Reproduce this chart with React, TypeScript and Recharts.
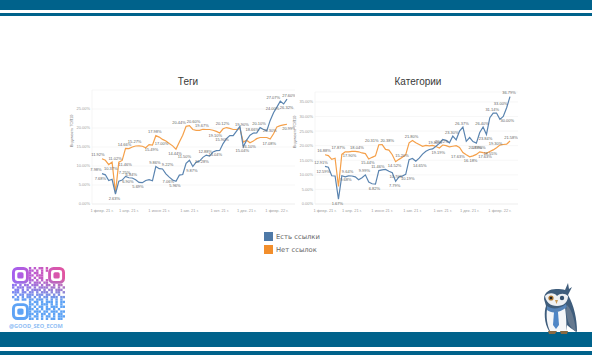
import React from 'react';
import { LineChart, Line, XAxis, YAxis, CartesianGrid } from 'recharts';

const weeks = ['1 февр. 21 г.','8 февр. 21 г.','15 февр. 21 г.','22 февр. 21 г.','1 мар. 21 г.','8 мар. 21 г.','15 мар. 21 г.','22 мар. 21 г.','1 апр. 21 г.','5 апр. 21 г.','12 апр. 21 г.','19 апр. 21 г.','26 апр. 21 г.','3 мая 21 г.','10 мая 21 г.','17 мая 21 г.','24 мая 21 г.','1 июня 21 г.','7 июня 21 г.','14 июня 21 г.','21 июня 21 г.','28 июня 21 г.','5 июля 21 г.','12 июля 21 г.','19 июля 21 г.','26 июля 21 г.','1 авг. 21 г.','9 авг. 21 г.','16 авг. 21 г.','23 авг. 21 г.','30 авг. 21 г.','6 сент. 21 г.','13 сент. 21 г.','20 сент. 21 г.','27 сент. 21 г.','1 окт. 21 г.','11 окт. 21 г.','18 окт. 21 г.','25 окт. 21 г.','1 нояб. 21 г.','8 нояб. 21 г.','15 нояб. 21 г.','22 нояб. 21 г.','1 дек. 21 г.','6 дек. 21 г.','13 дек. 21 г.','20 дек. 21 г.','27 дек. 21 г.','3 янв. 22 г.','10 янв. 22 г.','17 янв. 22 г.','24 янв. 22 г.','1 февр. 22 г.','7 февр. 22 г.','14 февр. 22 г.','21 февр. 22 г.'];
const xTicks = ['1 февр. 21 г.','1 апр. 21 г.','1 июня 21 г.','1 авг. 21 г.','1 окт. 21 г.','1 дек. 21 г.','1 февр. 22 г.'];

const tagsLinked = [7.98,7.68,6.17,6.5,2.63,6.0,6.3,7.25,6.9,6.84,6.4,5.69,5.6,6.2,6.4,6.1,9.86,9.3,9.22,7.94,7.06,6.3,5.96,7.6,7.76,10.7,11.5,9.87,11.02,11.3,12.28,12.88,12.6,13.7,14.04,14.1,15.9,17.2,18.0,18.0,19.2,20.43,15.04,16.8,18.1,18.66,18.7,20.1,19.6,19.3,22.0,24.0,25.5,27.07,26.32,27.6];
const tagsUnlinked = [11.92,11.5,10.37,11.02,3.0,11.0,11.46,14.66,14.6,15.0,15.27,15.3,15.2,14.8,15.61,15.49,17.98,17.6,17.0,16.6,15.9,15.3,14.44,16.3,18.1,20.44,20.6,19.6,19.36,19.4,19.67,19.6,19.6,19.4,19.1,18.7,19.8,20.12,19.9,19.6,19.6,19.9,16.3,16.8,16.1,16.6,17.2,17.5,17.5,17.5,17.08,18.5,20.3,20.62,20.8,20.99];
const catsLinked = [12.91,12.59,9.68,9.6,1.67,9.68,9.3,9.64,9.6,9.3,8.3,9.0,9.99,7.5,6.94,6.82,11.46,11.7,11.85,11.2,10.7,7.79,9.3,9.6,10.19,15.2,15.6,14.65,15.7,17.1,18.1,18.7,18.9,19.8,20.8,22.1,21.8,21.0,23.3,22.0,25.0,26.37,21.5,22.8,21.4,20.88,24.5,26.4,23.84,29.6,31.14,31.2,29.02,30.0,33.0,36.79];
const catsUnlinked = [16.88,16.6,15.3,15.7,6.0,17.0,17.87,17.9,18.04,18.04,17.9,17.5,17.27,15.44,16.0,16.5,20.31,20.38,18.7,18.47,16.9,14.52,15.3,16.0,16.9,21.0,21.8,21.0,20.4,19.8,20.1,19.9,20.1,19.7,19.19,20.22,20.0,19.6,19.8,20.0,19.4,17.63,16.87,16.18,16.5,17.0,17.9,17.63,17.4,18.0,18.55,19.3,20.2,20.4,20.5,21.58];

const tagTicks = [0, 5, 10, 15, 20, 25];
const catTicks = [0, 5, 10, 15, 20, 25, 30, 35];
const seriesNames = ['Есть ссылки', 'Нет ссылок'];
const BLUE = '#4e79a7';
const ORANGE = '#f28e2b';
const FONT = '"Liberation Sans", sans-serif';

const toRows = (a: number[], b: number[]) => weeks.map((week, i) => ({ week, linked: a[i], unlinked: b[i] }));

type Marks = { above: number[]; below: number[]; nudge?: Record<number, number> };
const tagLinkedMarks: Marks = { above: [0, 7, 9, 16, 18, 26, 31, 36, 45, 47, 51, 53, 55], below: [1, 4, 8, 11, 20, 22, 27, 30, 34, 42, 54], nudge: { 0: -5, 1: -4, 53: -6, 55: 3, 54: 4, 16: 0, 18: 6, 26: -4 } };
const tagUnlinkedMarks: Marks = { above: [0, 3, 7, 10, 16, 25, 26, 30, 37, 41], below: [2, 6, 15, 18, 22, 34, 44, 50, 52, 55], nudge: { 0: -3, 3: 4, 25: -6, 26: 5, 37: -3, 41: 3, 2: 3, 6: 4, 52: -6, 55: 3 } };
const catLinkedMarks: Marks = { above: [0, 7, 12, 16, 25, 33, 38, 41, 47, 50, 54, 55], below: [1, 4, 5, 15, 20, 21, 24, 27, 45, 48, 53], nudge: { 0: -3, 1: -4, 5: 5, 25: -6, 54: -5, 53: 5, 27: 5, 24: 3, 20: 5 } };
const catUnlinkedMarks: Marks = { above: [0, 6, 8, 16, 17, 26, 35, 46, 51, 55], below: [7, 13, 21, 34, 41, 43, 47, 50], nudge: { 6: -6, 8: 6, 16: -6, 17: 6, 7: 2, 41: -4, 43: 2, 47: 3, 50: -2, 55: 2 } };

const makeLabel = (marks: Marks) => (p: any) => {
  const up = marks.above.includes(p.index);
  const down = marks.below.includes(p.index);
  if (!up && !down) return <g key={p.index} />;
  const dx = marks.nudge?.[p.index] ?? 0;
  return (
    <text key={p.index} x={p.x - 1 + dx} y={p.y + (up ? -2.5 : 5.5)} textAnchor="middle" fontSize={4} fill="#666" fontFamily={FONT}>
      {Number(p.value).toFixed(2)}%
    </text>
  );
};

function Panel({ title, left, a, b, ticks, max, marginTop, ma, mb, titleX }: any) {
  return (
    <div style={{ position: 'absolute', left, top: 85, width: 235, height: 135 }}>
      <LineChart width={235} height={135} data={toRows(a, b)} margin={{ top: marginTop, right: 0, bottom: 0, left: 0 }}>
        <CartesianGrid horizontal vertical={false} stroke="#f4f4f4" strokeWidth={0.7} />
        <XAxis
          dataKey="week" ticks={xTicks} interval={0} height={16} padding={{ left: 10, right: 8 }} minTickGap={0} tickSize={0}
          tick={{ fontSize: 4, fill: '#a0a0a0', fontFamily: FONT }} tickLine={false} axisLine={{ stroke: '#eeeeee', strokeWidth: 0.7 }} tickMargin={5}
        />
        <YAxis
          type="number" domain={[0, max]} ticks={ticks} width={32} interval={0} tickSize={0} tickMargin={2}
          tickFormatter={(v: number) => v.toFixed(2) + '%'}
          tick={{ fontSize: 4, fill: '#a0a0a0', fontFamily: FONT }} tickLine={false} axisLine={{ stroke: '#f0f0f0', strokeWidth: 0.7 }}
          label={{ value: 'Видимость ТОП10', angle: -90, position: 'insideLeft', offset: 12, fontSize: 3.8, fill: '#777', fontFamily: FONT }}
        />
        <Line dataKey="unlinked" stroke="#f5a04a" strokeWidth={1.2} dot={false} isAnimationActive={false} label={makeLabel(mb)} />
        <Line dataKey="linked" stroke="#5a84b0" strokeWidth={1.2} dot={false} isAnimationActive={false} label={makeLabel(ma)} />
      </LineChart>
      <div style={{ position: 'absolute', left: titleX, top: -9, width: 80, textAlign: 'center', fontSize: 10, lineHeight: '12px', color: '#3a3a3a', fontFamily: FONT }}>{title}</div>
    </div>
  );
}

const qrRows = [
  '.......#.#.##.#.......',
  '.......##.#.#.#.......',
  '.......#.##.#.........',
  '.......##.###.........',
  '.......#.#.##.........',
  '.......##.#.#.#.......',
  '.......#.###.##.......',
  '##.#.##.###.#.##.#.##.',
  '#.###.##.#.####.##.#.#',
  '.##.#.#.####.#.##.###.',
  '###.##.##.#.###.#.##.#',
  '.#.##.###.###.##.#.#..',
  '#.#.#.##.#.#.##.###.##',
  '.##.##.##.###.#.#.#.#.',
  '.......#.##.#.###.#.##',
  '.......##.#.###.#.#.#.',
  '.......#.#.##.#.###.##',
  '.......##.#.#.##.#.#..',
  '.......#.###.##.###.##',
  '.......##.#.##.#.#.##.',
  '.......#.##.#.##.#.###',
  '.......##.#.#.#.##.##.',
];

function Qr() {
  const u = 53 / 22;
  const finders = [[0, 0], [15, 0], [0, 15]];
  return (
    <svg width={53} height={53} style={{ position: 'absolute', left: 12, top: 267 }}>
      <defs>
        <linearGradient id="qr" x1="0" y1="0" x2="1" y2="0">
          <stop offset="0" stopColor="#a45ff0" /><stop offset="1" stopColor="#e2559f" />
        </linearGradient>
        <linearGradient id="qr2" x1="0" y1="0" x2="0" y2="1">
          <stop offset="0.2" stopColor="#5ea3f5" stopOpacity={0} /><stop offset="0.65" stopColor="#5ea3f5" /><stop offset="1" stopColor="#5ea3f5" />
        </linearGradient>
        <mask id="qm">
          {qrRows.map((r, y) => r.split('').map((c, x) => c === '#' ? <rect key={x + '-' + y} x={x * u} y={y * u} width={u} height={u} fill="#fff" /> : null))}
          {finders.map(([x, y]) => (
            <g key={x + '-' + y}>
              <rect x={(x + 0.6) * u} y={(y + 0.6) * u} width={5.8 * u} height={5.8 * u} rx={1.6 * u} fill="none" stroke="#fff" strokeWidth={1.2 * u} />
              <rect x={(x + 2.2) * u} y={(y + 2.2) * u} width={2.6 * u} height={2.6 * u} rx={0.7 * u} fill="#fff" />
            </g>
          ))}
        </mask>
      </defs>
      <g mask="url(#qm)">
        <rect width={53} height={53} fill="url(#qr)" />
        <rect width={53} height={53} fill="url(#qr2)" />
      </g>
    </svg>
  );
}

function Owl() {
  return (
    <svg width={40} height={54} viewBox="0 0 40 54" style={{ position: 'absolute', left: 540, top: 281 }}>
      <path d="M4 18 C4 11 10 8 16 8 C20 8 23 8 25 9 L28 2 L29 8 L32 6 L28 14 C34 24 37 38 37 51 C32 48 29 46 27 44 L26 50 L9 50 C4 42 4 30 6 25 Z" fill="#3f5d7c" />
      <path d="M5 15 C9 11 15 12 17 15 C20 12 25 12 28 15 C28 21 24 25 17 25 C10 25 6 21 5 15 Z" fill="#eef0f3" />
      <circle cx="11" cy="17" r="2.6" fill="#b27a33" /><circle cx="11" cy="17" r="1.3" fill="#222" />
      <circle cx="22" cy="17" r="2.2" fill="#34506e" />
      <path d="M15 19 L18 19 L16.5 23 Z" fill="#c89a55" />
      <path d="M7 28 C12 31 20 30 25 26 C26 34 27 44 26 50 L10 50 C7 44 6 36 7 28 Z" fill="#f6f7f9" />
      <path d="M7 25 C12 29 20 28 26 23 L27 26 C20 32 12 33 7 29 Z" fill="#5583b8" />
      <path d="M14 31 L18 31 L19 44 L16 48 L13 44 Z" fill="#4f86c6" />
      <path d="M27 24 C33 30 35 42 36 51 C30 47 27 40 26 30 Z" fill="#66798f" />
      <path d="M8 50 L17 50 L15 53 L9 53 Z M20 50 L28 50 L27 53 L21 53 Z" fill="#8a6a42" />
    </svg>
  );
}

export default function App() {
  const band = (top: number, height: number) => <div style={{ position: 'absolute', left: 0, top, width: 592, height, background: '#00628b' }} />;
  const legend = (name: string, color: string, top: number) => (
    <div key={name} style={{ position: 'absolute', left: 264, top, height: 9, display: 'flex', alignItems: 'center' }}>
      <span style={{ width: 9, height: 9, background: color, display: 'inline-block' }} />
      <span style={{ marginLeft: 3, fontSize: 6.8, color: '#666', fontFamily: '"DejaVu Sans", sans-serif', whiteSpace: 'nowrap' }}>{name}</span>
    </div>
  );
  return (
    <div style={{ position: 'absolute', left: 0, top: 0, width: 592, height: 355, overflow: 'hidden', background: '#fff' }}>
      {band(0, 10)}
      {band(13, 3)}
      {band(332, 15)}
      {band(351, 4)}
      <Panel title="Теги" left={60} a={tagsLinked} b={tagsUnlinked} ticks={tagTicks} max={30} marginTop={5} ma={tagLinkedMarks} mb={tagUnlinkedMarks} titleX={88} />
      <Panel title="Категории" left={283} a={catsLinked} b={catsUnlinked} ticks={catTicks} max={38.4} marginTop={7} ma={catLinkedMarks} mb={catUnlinkedMarks} titleX={95} />
      {legend(seriesNames[0], BLUE, 232)}
      {legend(seriesNames[1], ORANGE, 245)}
      <Qr />
      <div style={{ position: 'absolute', left: 9, top: 322, fontSize: 5.6, fontWeight: 700, color: '#8fbdf4', fontFamily: '"Open Sans", sans-serif', whiteSpace: 'nowrap' }}>@GOOD_SEO_ECOM</div>
      <Owl />
    </div>
  );
}
